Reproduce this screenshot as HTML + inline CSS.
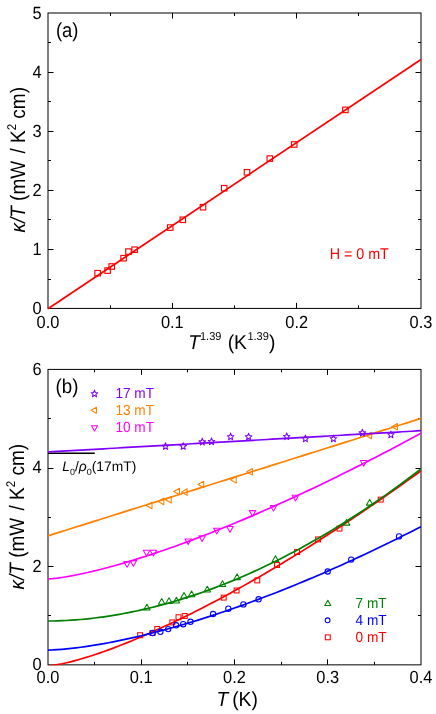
<!DOCTYPE html>
<html><head><meta charset="utf-8"><title>kappa/T</title>
<style>html,body{margin:0;padding:0;background:#fff}svg{display:block;will-change:transform}text{font-family:"Liberation Sans",sans-serif;text-rendering:geometricPrecision}</style>
</head><body>
<svg width="436" height="714" viewBox="0 0 436 714">
<rect x="48.0" y="13.0" width="373.00" height="295.40" fill="none" stroke="#000" stroke-width="1"/>
<text transform="translate(48.00,327.60) scale(1,1.08)" font-size="16.4" fill="#000" text-anchor="middle" font-family="Liberation Sans, sans-serif">0.0</text>
<text transform="translate(172.33,327.60) scale(1,1.08)" font-size="16.4" fill="#000" text-anchor="middle" font-family="Liberation Sans, sans-serif">0.1</text>
<text transform="translate(296.67,327.60) scale(1,1.08)" font-size="16.4" fill="#000" text-anchor="middle" font-family="Liberation Sans, sans-serif">0.2</text>
<text transform="translate(421.00,327.60) scale(1,1.08)" font-size="16.4" fill="#000" text-anchor="middle" font-family="Liberation Sans, sans-serif">0.3</text>
<text transform="translate(41.50,314.00) scale(1,1.08)" font-size="16.4" fill="#000" text-anchor="end" font-family="Liberation Sans, sans-serif">0</text>
<text transform="translate(41.50,254.92) scale(1,1.08)" font-size="16.4" fill="#000" text-anchor="end" font-family="Liberation Sans, sans-serif">1</text>
<text transform="translate(41.50,195.84) scale(1,1.08)" font-size="16.4" fill="#000" text-anchor="end" font-family="Liberation Sans, sans-serif">2</text>
<text transform="translate(41.50,136.76) scale(1,1.08)" font-size="16.4" fill="#000" text-anchor="end" font-family="Liberation Sans, sans-serif">3</text>
<text transform="translate(41.50,77.68) scale(1,1.08)" font-size="16.4" fill="#000" text-anchor="end" font-family="Liberation Sans, sans-serif">4</text>
<text transform="translate(41.50,18.60) scale(1,1.08)" font-size="16.4" fill="#000" text-anchor="end" font-family="Liberation Sans, sans-serif">5</text>
<path d="M172.5 308.4 v-5.5 M172.5 13.0 v5.5 M296.5 308.4 v-5.5 M296.5 13.0 v5.5 M110.5 308.4 v-3 M110.5 13.0 v3 M234.5 308.4 v-3 M234.5 13.0 v3 M358.5 308.4 v-3 M358.5 13.0 v3 M48.0 249.5 h5.5 M421.0 249.5 h-5.5 M48.0 190.5 h5.5 M421.0 190.5 h-5.5 M48.0 131.5 h5.5 M421.0 131.5 h-5.5 M48.0 72.5 h5.5 M421.0 72.5 h-5.5 M48.0 279.5 h3 M421.0 279.5 h-3 M48.0 219.5 h3 M421.0 219.5 h-3 M48.0 160.5 h3 M421.0 160.5 h-3 M48.0 101.5 h3 M421.0 101.5 h-3 M48.0 42.5 h3 M421.0 42.5 h-3" stroke="#000" stroke-width="1" fill="none"/>
<line x1="48.0" y1="308.7" x2="421.0" y2="59.5" stroke="#ff0000" stroke-width="1.75"/>
<rect x="94.85" y="270.45" width="5.5" height="5.5" fill="none" stroke="#ff0000" stroke-width="1.15"/>
<rect x="104.85" y="267.85" width="5.5" height="5.5" fill="none" stroke="#ff0000" stroke-width="1.15"/>
<rect x="108.95" y="263.75" width="5.5" height="5.5" fill="none" stroke="#ff0000" stroke-width="1.15"/>
<rect x="120.85" y="255.45" width="5.5" height="5.5" fill="none" stroke="#ff0000" stroke-width="1.15"/>
<rect x="125.75" y="248.85" width="5.5" height="5.5" fill="none" stroke="#ff0000" stroke-width="1.15"/>
<rect x="131.85" y="246.95" width="5.5" height="5.5" fill="none" stroke="#ff0000" stroke-width="1.15"/>
<rect x="167.45" y="224.85" width="5.5" height="5.5" fill="none" stroke="#ff0000" stroke-width="1.15"/>
<rect x="180.05" y="217.05" width="5.5" height="5.5" fill="none" stroke="#ff0000" stroke-width="1.15"/>
<rect x="200.25" y="204.45" width="5.5" height="5.5" fill="none" stroke="#ff0000" stroke-width="1.15"/>
<rect x="221.45" y="185.45" width="5.5" height="5.5" fill="none" stroke="#ff0000" stroke-width="1.15"/>
<rect x="244.25" y="169.55" width="5.5" height="5.5" fill="none" stroke="#ff0000" stroke-width="1.15"/>
<rect x="267.05" y="155.85" width="5.5" height="5.5" fill="none" stroke="#ff0000" stroke-width="1.15"/>
<rect x="291.45" y="141.75" width="5.5" height="5.5" fill="none" stroke="#ff0000" stroke-width="1.15"/>
<rect x="342.65" y="107.15" width="5.5" height="5.5" fill="none" stroke="#ff0000" stroke-width="1.15"/>
<text transform="translate(55.90,36.70) scale(0.97,1.075)" font-size="19" fill="#000" text-anchor="start" font-family="Liberation Sans, sans-serif">(a)</text>
<text transform="translate(329.70,258.90) scale(0.985,1.07)" font-size="14.5" fill="#ff0000" text-anchor="start" font-family="Liberation Sans, sans-serif">H = 0 mT</text>
<text transform="translate(24.70,232.60) rotate(-90) scale(1.0,1.1)" font-size="19" fill="#000" text-anchor="start" font-family="Liberation Sans, sans-serif"><tspan font-style="italic">κ/T</tspan><tspan dx="0"> (mW</tspan><tspan dx="2"> /</tspan><tspan dx="0"> K</tspan><tspan font-size="11.5" dy="-8.2" dx="0">2</tspan><tspan dy="8.2" dx="0"> cm)</tspan></text>
<text transform="translate(188.20,349.00) scale(1,1.04)" font-size="19.3" fill="#000" text-anchor="start" font-family="Liberation Sans, sans-serif"><tspan font-style="italic">T</tspan><tspan font-size="11" dy="-8.6">1.39</tspan><tspan dy="8.6" dx="0.9"> (K</tspan><tspan font-size="11" dy="-8.6" dx="0.5">1.39</tspan><tspan dy="8.6" dx="0.2">)</tspan></text>
<clipPath id="cb"><rect x="47.5" y="368.9" width="374.00" height="296.45"/></clipPath>
<rect x="48.0" y="369.4" width="373.00" height="295.45" fill="none" stroke="#000" stroke-width="1"/>
<text transform="translate(48.00,683.45) scale(1,1.08)" font-size="16.4" fill="#000" text-anchor="middle" font-family="Liberation Sans, sans-serif">0.0</text>
<text transform="translate(141.25,683.45) scale(1,1.08)" font-size="16.4" fill="#000" text-anchor="middle" font-family="Liberation Sans, sans-serif">0.1</text>
<text transform="translate(234.50,683.45) scale(1,1.08)" font-size="16.4" fill="#000" text-anchor="middle" font-family="Liberation Sans, sans-serif">0.2</text>
<text transform="translate(327.75,683.45) scale(1,1.08)" font-size="16.4" fill="#000" text-anchor="middle" font-family="Liberation Sans, sans-serif">0.3</text>
<text transform="translate(421.00,683.45) scale(1,1.08)" font-size="16.4" fill="#000" text-anchor="middle" font-family="Liberation Sans, sans-serif">0.4</text>
<text transform="translate(41.50,670.45) scale(1,1.08)" font-size="16.4" fill="#000" text-anchor="end" font-family="Liberation Sans, sans-serif">0</text>
<text transform="translate(41.50,571.97) scale(1,1.08)" font-size="16.4" fill="#000" text-anchor="end" font-family="Liberation Sans, sans-serif">2</text>
<text transform="translate(41.50,473.48) scale(1,1.08)" font-size="16.4" fill="#000" text-anchor="end" font-family="Liberation Sans, sans-serif">4</text>
<text transform="translate(41.50,375.00) scale(1,1.08)" font-size="16.4" fill="#000" text-anchor="end" font-family="Liberation Sans, sans-serif">6</text>
<path d="M141.5 664.85 v-5.5 M141.5 369.4 v5.5 M234.5 664.85 v-5.5 M234.5 369.4 v5.5 M327.5 664.85 v-5.5 M327.5 369.4 v5.5 M94.5 664.85 v-3 M94.5 369.4 v3 M187.5 664.85 v-3 M187.5 369.4 v3 M281.5 664.85 v-3 M281.5 369.4 v3 M374.5 664.85 v-3 M374.5 369.4 v3 M48.0 566.5 h5.5 M421.0 566.5 h-5.5 M48.0 468.5 h5.5 M421.0 468.5 h-5.5 M48.0 615.5 h3 M421.0 615.5 h-3 M48.0 517.5 h3 M421.0 517.5 h-3 M48.0 418.5 h3 M421.0 418.5 h-3" stroke="#000" stroke-width="1" fill="none"/>
<line x1="48" y1="453.2" x2="94.8" y2="453.2" stroke="#000" stroke-width="1.5"/>
<g clip-path="url(#cb)">
<polyline points="48.00,665.93 52.66,665.45 57.33,664.69 61.99,663.78 66.65,662.74 71.31,661.60 75.98,660.36 80.64,659.05 85.30,657.67 89.96,656.22 94.62,654.70 99.29,653.13 103.95,651.51 108.61,649.83 113.28,648.10 117.94,646.32 122.60,644.50 127.26,642.63 131.93,640.72 136.59,638.77 141.25,636.79 145.91,634.76 150.57,632.69 155.24,630.59 159.90,628.46 164.56,626.33 169.23,624.18 173.89,621.99 178.55,619.76 183.21,617.51 187.87,615.22 192.54,612.91 197.20,610.57 201.86,608.20 206.53,605.79 211.19,603.37 215.85,600.91 220.51,598.43 225.17,595.92 229.84,593.39 234.50,590.83 239.16,588.24 243.83,585.63 248.49,583.00 253.15,580.34 257.81,577.66 262.48,574.95 267.14,572.23 271.80,569.48 276.46,566.70 281.12,563.91 285.79,561.09 290.45,558.25 295.11,555.39 299.77,552.51 304.44,549.61 309.10,546.69 313.76,543.74 318.43,540.78 323.09,537.80 327.75,534.79 332.41,531.77 337.07,528.73 341.74,525.67 346.40,522.59 351.06,519.49 355.72,516.37 360.39,513.23 365.05,510.08 369.71,506.91 374.37,503.71 379.04,500.51 383.70,497.28 388.36,494.04 393.02,490.78 397.69,487.50 402.35,484.20 407.01,480.89 411.68,477.56 416.34,474.21 421.00,470.85" fill="none" stroke="#ff0000" stroke-width="1.7" stroke-linejoin="round"/>
<rect x="137.65" y="632.75" width="4.9" height="4.9" fill="none" stroke="#ff0000" stroke-width="1.05"/>
<rect x="149.95" y="630.55" width="4.9" height="4.9" fill="none" stroke="#ff0000" stroke-width="1.05"/>
<rect x="154.75" y="626.55" width="4.9" height="4.9" fill="none" stroke="#ff0000" stroke-width="1.05"/>
<rect x="169.85" y="619.95" width="4.9" height="4.9" fill="none" stroke="#ff0000" stroke-width="1.05"/>
<rect x="176.05" y="614.75" width="4.9" height="4.9" fill="none" stroke="#ff0000" stroke-width="1.05"/>
<rect x="182.25" y="613.55" width="4.9" height="4.9" fill="none" stroke="#ff0000" stroke-width="1.05"/>
<rect x="221.25" y="595.15" width="4.9" height="4.9" fill="none" stroke="#ff0000" stroke-width="1.05"/>
<rect x="234.15" y="588.05" width="4.9" height="4.9" fill="none" stroke="#ff0000" stroke-width="1.05"/>
<rect x="254.85" y="577.95" width="4.9" height="4.9" fill="none" stroke="#ff0000" stroke-width="1.05"/>
<rect x="274.55" y="562.55" width="4.9" height="4.9" fill="none" stroke="#ff0000" stroke-width="1.05"/>
<rect x="294.65" y="549.55" width="4.9" height="4.9" fill="none" stroke="#ff0000" stroke-width="1.05"/>
<rect x="315.65" y="536.95" width="4.9" height="4.9" fill="none" stroke="#ff0000" stroke-width="1.05"/>
<rect x="337.05" y="526.15" width="4.9" height="4.9" fill="none" stroke="#ff0000" stroke-width="1.05"/>
<rect x="378.25" y="497.15" width="4.9" height="4.9" fill="none" stroke="#ff0000" stroke-width="1.05"/>
<polyline points="48.00,650.08 52.66,649.94 57.33,649.68 61.99,649.32 66.65,648.90 71.31,648.41 75.98,647.87 80.64,647.27 85.30,646.62 89.96,645.93 94.62,645.19 99.29,644.41 103.95,643.59 108.61,642.74 113.28,641.84 117.94,640.91 122.60,639.94 127.26,638.94 131.93,637.91 136.59,636.84 141.25,635.74 145.91,634.62 150.57,633.46 155.24,632.27 159.90,631.05 164.56,629.81 169.23,628.53 173.89,627.23 178.55,625.91 183.21,624.55 187.87,623.17 192.54,621.77 197.20,620.34 201.86,618.88 206.53,617.40 211.19,615.89 215.85,614.37 220.51,612.81 225.17,611.24 229.84,609.64 234.50,608.02 239.16,606.37 243.83,604.71 248.49,603.02 253.15,601.31 257.81,599.58 262.48,597.82 267.14,596.05 271.80,594.25 276.46,592.44 281.12,590.60 285.79,588.74 290.45,586.86 295.11,584.96 299.77,583.05 304.44,581.11 309.10,579.15 313.76,577.18 318.43,575.18 323.09,573.16 327.75,571.13 332.41,569.08 337.07,567.01 341.74,564.92 346.40,562.81 351.06,560.68 355.72,558.54 360.39,556.37 365.05,554.19 369.71,551.99 374.37,549.78 379.04,547.54 383.70,545.29 388.36,543.02 393.02,540.74 397.69,538.43 402.35,536.11 407.01,533.78 411.68,531.42 416.34,529.05 421.00,526.66" fill="none" stroke="#0000ff" stroke-width="1.7" stroke-linejoin="round"/>
<circle cx="152.70" cy="633.00" r="2.65" fill="none" stroke="#0000ff" stroke-width="1.05"/>
<circle cx="160.40" cy="631.80" r="2.65" fill="none" stroke="#0000ff" stroke-width="1.05"/>
<circle cx="168.20" cy="629.10" r="2.65" fill="none" stroke="#0000ff" stroke-width="1.05"/>
<circle cx="176.10" cy="625.30" r="2.65" fill="none" stroke="#0000ff" stroke-width="1.05"/>
<circle cx="183.20" cy="624.20" r="2.65" fill="none" stroke="#0000ff" stroke-width="1.05"/>
<circle cx="190.50" cy="621.80" r="2.65" fill="none" stroke="#0000ff" stroke-width="1.05"/>
<circle cx="213.10" cy="614.00" r="2.65" fill="none" stroke="#0000ff" stroke-width="1.05"/>
<circle cx="228.30" cy="608.70" r="2.65" fill="none" stroke="#0000ff" stroke-width="1.05"/>
<circle cx="243.40" cy="604.40" r="2.65" fill="none" stroke="#0000ff" stroke-width="1.05"/>
<circle cx="258.60" cy="599.30" r="2.65" fill="none" stroke="#0000ff" stroke-width="1.05"/>
<circle cx="327.70" cy="571.50" r="2.65" fill="none" stroke="#0000ff" stroke-width="1.05"/>
<circle cx="351.20" cy="559.60" r="2.65" fill="none" stroke="#0000ff" stroke-width="1.05"/>
<circle cx="399.00" cy="536.40" r="2.65" fill="none" stroke="#0000ff" stroke-width="1.05"/>
<polyline points="48.00,621.02 52.66,620.99 57.33,620.88 61.99,620.72 66.65,620.49 71.31,620.22 75.98,619.88 80.64,619.50 85.30,619.06 89.96,618.57 94.62,618.03 99.29,617.44 103.95,616.80 108.61,616.11 113.28,615.37 117.94,614.59 122.60,613.75 127.26,612.87 131.93,611.94 136.59,610.96 141.25,609.94 145.91,608.87 150.57,607.75 155.24,606.59 159.90,605.38 164.56,604.12 169.23,602.82 173.89,601.48 178.55,600.09 183.21,598.65 187.87,597.17 192.54,595.65 197.20,594.08 201.86,592.47 206.53,590.81 211.19,589.11 215.85,587.37 220.51,585.58 225.17,583.75 229.84,581.87 234.50,579.95 239.16,577.99 243.83,575.99 248.49,573.94 253.15,571.85 257.81,569.72 262.48,567.55 267.14,565.33 271.80,563.07 276.46,560.77 281.12,558.42 285.79,556.04 290.45,553.61 295.11,551.14 299.77,548.63 304.44,546.07 309.10,543.48 313.76,540.84 318.43,538.16 323.09,535.44 327.75,532.68 332.41,529.88 337.07,527.04 341.74,524.16 346.40,521.23 351.06,518.26 355.72,515.26 360.39,512.21 365.05,509.12 369.71,505.99 374.37,502.82 379.04,499.61 383.70,496.36 388.36,493.07 393.02,489.74 397.69,486.37 402.35,482.96 407.01,479.51 411.68,476.01 416.34,472.48 421.00,468.91" fill="none" stroke="#008000" stroke-width="1.7" stroke-linejoin="round"/>
<polygon points="146.90,604.20 150.19,609.90 143.61,609.90" fill="none" stroke="#008000" stroke-width="1.05" stroke-linejoin="round"/>
<polygon points="161.70,598.60 164.99,604.30 158.41,604.30" fill="none" stroke="#008000" stroke-width="1.05" stroke-linejoin="round"/>
<polygon points="169.00,597.80 172.29,603.50 165.71,603.50" fill="none" stroke="#008000" stroke-width="1.05" stroke-linejoin="round"/>
<polygon points="176.40,597.20 179.69,602.90 173.11,602.90" fill="none" stroke="#008000" stroke-width="1.05" stroke-linejoin="round"/>
<polygon points="184.00,592.50 187.29,598.20 180.71,598.20" fill="none" stroke="#008000" stroke-width="1.05" stroke-linejoin="round"/>
<polygon points="191.60,591.00 194.89,596.70 188.31,596.70" fill="none" stroke="#008000" stroke-width="1.05" stroke-linejoin="round"/>
<polygon points="207.30,586.20 210.59,591.90 204.01,591.90" fill="none" stroke="#008000" stroke-width="1.05" stroke-linejoin="round"/>
<polygon points="222.50,580.70 225.79,586.40 219.21,586.40" fill="none" stroke="#008000" stroke-width="1.05" stroke-linejoin="round"/>
<polygon points="237.10,573.90 240.39,579.60 233.81,579.60" fill="none" stroke="#008000" stroke-width="1.05" stroke-linejoin="round"/>
<polygon points="275.50,555.70 278.79,561.40 272.21,561.40" fill="none" stroke="#008000" stroke-width="1.05" stroke-linejoin="round"/>
<polygon points="346.60,519.40 349.89,525.10 343.31,525.10" fill="none" stroke="#008000" stroke-width="1.05" stroke-linejoin="round"/>
<polygon points="369.70,499.40 372.99,505.10 366.41,505.10" fill="none" stroke="#008000" stroke-width="1.05" stroke-linejoin="round"/>
<polyline points="48.00,579.02 52.66,578.69 57.33,578.14 61.99,577.48 66.65,576.73 71.31,575.90 75.98,575.00 80.64,574.04 85.30,573.03 89.96,571.97 94.62,570.86 99.29,569.70 103.95,568.51 108.61,567.28 113.28,566.01 117.94,564.70 122.60,563.36 127.26,561.99 131.93,560.58 136.59,559.15 141.25,557.68 145.91,556.19 150.57,554.67 155.24,553.12 159.90,551.55 164.56,549.95 169.23,548.32 173.89,546.68 178.55,545.00 183.21,543.31 187.87,541.59 192.54,539.85 197.20,538.09 201.86,536.30 206.53,534.50 211.19,532.67 215.85,530.83 220.51,528.96 225.17,527.08 229.84,525.17 234.50,523.25 239.16,521.31 243.83,519.35 248.49,517.37 253.15,515.38 257.81,513.36 262.48,511.33 267.14,509.28 271.80,507.22 276.46,505.14 281.12,503.04 285.79,500.92 290.45,498.79 295.11,496.65 299.77,494.49 304.44,492.31 309.10,490.12 313.76,487.91 318.43,485.68 323.09,483.45 327.75,481.19 332.41,478.93 337.07,476.65 341.74,474.35 346.40,472.04 351.06,469.72 355.72,467.38 360.39,465.03 365.05,462.66 369.71,460.28 374.37,457.89 379.04,455.49 383.70,453.07 388.36,450.64 393.02,448.19 397.69,445.74 402.35,443.27 407.01,440.79 411.68,438.29 416.34,435.78 421.00,433.27" fill="none" stroke="#ff00ff" stroke-width="1.7" stroke-linejoin="round"/>
<polygon points="127.10,567.30 123.81,561.60 130.39,561.60" fill="none" stroke="#ff00ff" stroke-width="1.05" stroke-linejoin="round"/>
<polygon points="133.40,566.30 130.11,560.60 136.69,560.60" fill="none" stroke="#ff00ff" stroke-width="1.05" stroke-linejoin="round"/>
<polygon points="146.60,555.90 143.31,550.20 149.89,550.20" fill="none" stroke="#ff00ff" stroke-width="1.05" stroke-linejoin="round"/>
<polygon points="153.40,555.90 150.11,550.20 156.69,550.20" fill="none" stroke="#ff00ff" stroke-width="1.05" stroke-linejoin="round"/>
<polygon points="188.20,544.60 184.91,538.90 191.49,538.90" fill="none" stroke="#ff00ff" stroke-width="1.05" stroke-linejoin="round"/>
<polygon points="202.10,541.50 198.81,535.80 205.39,535.80" fill="none" stroke="#ff00ff" stroke-width="1.05" stroke-linejoin="round"/>
<polygon points="216.80,534.00 213.51,528.30 220.09,528.30" fill="none" stroke="#ff00ff" stroke-width="1.05" stroke-linejoin="round"/>
<polygon points="230.00,532.20 226.71,526.50 233.29,526.50" fill="none" stroke="#ff00ff" stroke-width="1.05" stroke-linejoin="round"/>
<polygon points="252.50,516.30 249.21,510.60 255.79,510.60" fill="none" stroke="#ff00ff" stroke-width="1.05" stroke-linejoin="round"/>
<polygon points="273.50,511.10 270.21,505.40 276.79,505.40" fill="none" stroke="#ff00ff" stroke-width="1.05" stroke-linejoin="round"/>
<polygon points="295.40,500.90 292.11,495.20 298.69,495.20" fill="none" stroke="#ff00ff" stroke-width="1.05" stroke-linejoin="round"/>
<polygon points="363.70,466.20 360.41,460.50 366.99,460.50" fill="none" stroke="#ff00ff" stroke-width="1.05" stroke-linejoin="round"/>
<polyline points="48.00,535.84 52.66,534.37 57.33,532.90 61.99,531.43 66.65,529.97 71.31,528.50 75.98,527.03 80.64,525.57 85.30,524.10 89.96,522.63 94.62,521.16 99.29,519.70 103.95,518.23 108.61,516.76 113.28,515.29 117.94,513.83 122.60,512.36 127.26,510.89 131.93,509.42 136.59,507.96 141.25,506.49 145.91,505.02 150.57,503.55 155.24,502.09 159.90,500.62 164.56,499.15 169.23,497.68 173.89,496.22 178.55,494.75 183.21,493.28 187.87,491.81 192.54,490.35 197.20,488.88 201.86,487.41 206.53,485.95 211.19,484.48 215.85,483.01 220.51,481.54 225.17,480.08 229.84,478.61 234.50,477.14 239.16,475.67 243.83,474.21 248.49,472.74 253.15,471.27 257.81,469.80 262.48,468.34 267.14,466.87 271.80,465.40 276.46,463.93 281.12,462.47 285.79,461.00 290.45,459.53 295.11,458.06 299.77,456.60 304.44,455.13 309.10,453.66 313.76,452.19 318.43,450.73 323.09,449.26 327.75,447.79 332.41,446.33 337.07,444.86 341.74,443.39 346.40,441.92 351.06,440.46 355.72,438.99 360.39,437.52 365.05,436.05 369.71,434.59 374.37,433.12 379.04,431.65 383.70,430.18 388.36,428.72 393.02,427.25 397.69,425.78 402.35,424.31 407.01,422.85 411.68,421.38 416.34,419.91 421.00,418.44" fill="none" stroke="#ff8000" stroke-width="1.7" stroke-linejoin="round"/>
<polygon points="146.30,505.50 152.00,502.21 152.00,508.79" fill="none" stroke="#ff8000" stroke-width="1.05" stroke-linejoin="round"/>
<polygon points="158.10,501.40 163.80,498.11 163.80,504.69" fill="none" stroke="#ff8000" stroke-width="1.05" stroke-linejoin="round"/>
<polygon points="165.50,499.70 171.20,496.41 171.20,502.99" fill="none" stroke="#ff8000" stroke-width="1.05" stroke-linejoin="round"/>
<polygon points="173.80,491.50 179.50,488.21 179.50,494.79" fill="none" stroke="#ff8000" stroke-width="1.05" stroke-linejoin="round"/>
<polygon points="181.40,492.10 187.10,488.81 187.10,495.39" fill="none" stroke="#ff8000" stroke-width="1.05" stroke-linejoin="round"/>
<polygon points="198.00,484.50 203.70,481.21 203.70,487.79" fill="none" stroke="#ff8000" stroke-width="1.05" stroke-linejoin="round"/>
<polygon points="230.50,479.80 236.20,476.51 236.20,483.09" fill="none" stroke="#ff8000" stroke-width="1.05" stroke-linejoin="round"/>
<polygon points="246.70,471.80 252.40,468.51 252.40,475.09" fill="none" stroke="#ff8000" stroke-width="1.05" stroke-linejoin="round"/>
<polygon points="365.90,435.50 371.60,432.21 371.60,438.79" fill="none" stroke="#ff8000" stroke-width="1.05" stroke-linejoin="round"/>
<polygon points="391.70,426.80 397.40,423.51 397.40,430.09" fill="none" stroke="#ff8000" stroke-width="1.05" stroke-linejoin="round"/>
<polyline points="48.00,451.98 52.66,451.71 57.33,451.45 61.99,451.18 66.65,450.91 71.31,450.65 75.98,450.38 80.64,450.12 85.30,449.85 89.96,449.59 94.62,449.32 99.29,449.05 103.95,448.79 108.61,448.52 113.28,448.26 117.94,447.99 122.60,447.72 127.26,447.46 131.93,447.19 136.59,446.93 141.25,446.66 145.91,446.39 150.57,446.13 155.24,445.86 159.90,445.60 164.56,445.33 169.23,445.06 173.89,444.80 178.55,444.53 183.21,444.27 187.87,444.00 192.54,443.74 197.20,443.47 201.86,443.20 206.53,442.94 211.19,442.67 215.85,442.41 220.51,442.14 225.17,441.87 229.84,441.61 234.50,441.34 239.16,441.08 243.83,440.81 248.49,440.54 253.15,440.28 257.81,440.01 262.48,439.75 267.14,439.48 271.80,439.21 276.46,438.95 281.12,438.68 285.79,438.42 290.45,438.15 295.11,437.89 299.77,437.62 304.44,437.35 309.10,437.09 313.76,436.82 318.43,436.56 323.09,436.29 327.75,436.02 332.41,435.76 337.07,435.49 341.74,435.23 346.40,434.96 351.06,434.69 355.72,434.43 360.39,434.16 365.05,433.90 369.71,433.63 374.37,433.36 379.04,433.10 383.70,432.83 388.36,432.57 393.02,432.30 397.69,432.04 402.35,431.77 407.01,431.50 411.68,431.24 416.34,430.97 421.00,430.71" fill="none" stroke="#8000ff" stroke-width="1.7" stroke-linejoin="round"/>
<polygon points="165.50,442.67 166.38,445.09 168.78,445.25 166.93,446.90 167.53,449.41 165.50,448.02 163.47,449.41 164.07,446.90 162.22,445.25 164.62,445.09" fill="none" stroke="#8000ff" stroke-width="1.05" stroke-linejoin="round"/>
<polygon points="183.20,442.67 184.08,445.09 186.48,445.25 184.63,446.90 185.23,449.41 183.20,448.02 181.17,449.41 181.77,446.90 179.92,445.25 182.32,445.09" fill="none" stroke="#8000ff" stroke-width="1.05" stroke-linejoin="round"/>
<polygon points="202.30,438.27 203.18,440.69 205.58,440.85 203.73,442.50 204.33,445.01 202.30,443.62 200.27,445.01 200.87,442.50 199.02,440.85 201.42,440.69" fill="none" stroke="#8000ff" stroke-width="1.05" stroke-linejoin="round"/>
<polygon points="211.50,437.87 212.38,440.29 214.78,440.45 212.93,442.10 213.53,444.61 211.50,443.22 209.47,444.61 210.07,442.10 208.22,440.45 210.62,440.29" fill="none" stroke="#8000ff" stroke-width="1.05" stroke-linejoin="round"/>
<polygon points="230.60,433.07 231.48,435.49 233.88,435.65 232.03,437.30 232.63,439.81 230.60,438.42 228.57,439.81 229.17,437.30 227.32,435.65 229.72,435.49" fill="none" stroke="#8000ff" stroke-width="1.05" stroke-linejoin="round"/>
<polygon points="248.60,433.17 249.48,435.59 251.88,435.75 250.03,437.40 250.63,439.91 248.60,438.52 246.57,439.91 247.17,437.40 245.32,435.75 247.72,435.59" fill="none" stroke="#8000ff" stroke-width="1.05" stroke-linejoin="round"/>
<polygon points="286.70,432.87 287.58,435.29 289.98,435.45 288.13,437.10 288.73,439.61 286.70,438.22 284.67,439.61 285.27,437.10 283.42,435.45 285.82,435.29" fill="none" stroke="#8000ff" stroke-width="1.05" stroke-linejoin="round"/>
<polygon points="305.40,435.07 306.28,437.49 308.68,437.65 306.83,439.30 307.43,441.81 305.40,440.42 303.37,441.81 303.97,439.30 302.12,437.65 304.52,437.49" fill="none" stroke="#8000ff" stroke-width="1.05" stroke-linejoin="round"/>
<polygon points="333.40,435.07 334.28,437.49 336.68,437.65 334.83,439.30 335.43,441.81 333.40,440.42 331.37,441.81 331.97,439.30 330.12,437.65 332.52,437.49" fill="none" stroke="#8000ff" stroke-width="1.05" stroke-linejoin="round"/>
<polygon points="362.40,429.27 363.28,431.69 365.68,431.85 363.83,433.50 364.43,436.01 362.40,434.62 360.37,436.01 360.97,433.50 359.12,431.85 361.52,431.69" fill="none" stroke="#8000ff" stroke-width="1.05" stroke-linejoin="round"/>
<polygon points="390.90,431.07 391.78,433.49 394.18,433.65 392.33,435.30 392.93,437.81 390.90,436.42 388.87,437.81 389.47,435.30 387.62,433.65 390.02,433.49" fill="none" stroke="#8000ff" stroke-width="1.05" stroke-linejoin="round"/>
</g>
<text transform="translate(55.60,392.90) scale(0.985,1.055)" font-size="19" fill="#000" text-anchor="start" font-family="Liberation Sans, sans-serif">(b)</text>
<text transform="translate(23.70,589.50) rotate(-90) scale(1.0,1.1)" font-size="19" fill="#000" text-anchor="start" font-family="Liberation Sans, sans-serif"><tspan font-style="italic">κ/T</tspan><tspan dx="0"> (mW</tspan><tspan dx="2"> /</tspan><tspan dx="0"> K</tspan><tspan font-size="11.5" dy="-8.2" dx="0">2</tspan><tspan dy="8.2" dx="0"> cm)</tspan></text>
<text transform="translate(216.60,706.00) scale(1,1.06)" font-size="19.3" fill="#000" text-anchor="start" font-family="Liberation Sans, sans-serif"><tspan font-style="italic">T</tspan><tspan dx="-1.6"> (K)</tspan></text>
<polygon points="94.50,390.07 95.38,392.49 97.78,392.65 95.93,394.30 96.53,396.81 94.50,395.42 92.47,396.81 93.07,394.30 91.22,392.65 93.62,392.49" fill="none" stroke="#8000ff" stroke-width="1.05" stroke-linejoin="round"/>
<text transform="translate(115.40,398.30) scale(0.96,1.03)" font-size="14.2" fill="#8000ff" text-anchor="start" font-family="Liberation Sans, sans-serif">17 mT</text>
<polygon points="91.20,410.30 96.45,407.27 96.45,413.33" fill="none" stroke="#ff8000" stroke-width="1.05" stroke-linejoin="round"/>
<text transform="translate(115.40,415.00) scale(0.96,1.03)" font-size="14.2" fill="#ff8000" text-anchor="start" font-family="Liberation Sans, sans-serif">13 mT</text>
<polygon points="94.50,431.00 91.47,425.75 97.53,425.75" fill="none" stroke="#ff00ff" stroke-width="1.05" stroke-linejoin="round"/>
<text transform="translate(115.40,431.80) scale(0.96,1.03)" font-size="14.2" fill="#ff00ff" text-anchor="start" font-family="Liberation Sans, sans-serif">10 mT</text>
<polygon points="327.80,600.30 330.83,605.55 324.77,605.55" fill="none" stroke="#008000" stroke-width="1.05" stroke-linejoin="round"/>
<text transform="translate(355.60,608.00) scale(0.96,1.03)" font-size="14.2" fill="#008000" text-anchor="start" font-family="Liberation Sans, sans-serif">7 mT</text>
<circle cx="327.60" cy="620.30" r="2.4" fill="none" stroke="#0000ff" stroke-width="1.05"/>
<text transform="translate(355.60,624.90) scale(0.96,1.03)" font-size="14.2" fill="#0000ff" text-anchor="start" font-family="Liberation Sans, sans-serif">4 mT</text>
<rect x="325.35" y="634.85" width="4.9" height="4.9" fill="none" stroke="#ff0000" stroke-width="1.05"/>
<text transform="translate(355.60,641.90) scale(0.96,1.03)" font-size="14.2" fill="#ff0000" text-anchor="start" font-family="Liberation Sans, sans-serif">0 mT</text>
<text x="62.3" y="470.6" font-size="13.8" font-family="Liberation Sans, sans-serif"><tspan font-style="italic">L</tspan><tspan font-size="9" dy="4.2">0</tspan><tspan dy="-4.2">/</tspan><tspan font-style="italic">ρ</tspan><tspan font-size="9" dy="4.2">0</tspan><tspan dy="-4.2">(17mT)</tspan></text>
</svg>
</body></html>
